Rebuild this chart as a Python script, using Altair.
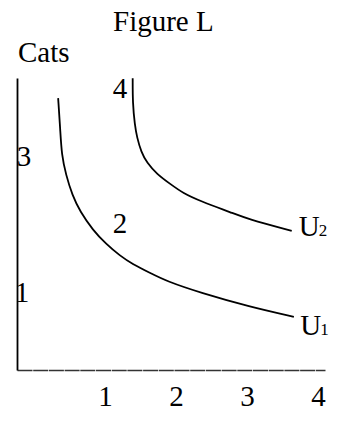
import altair as alt
import pandas as pd

# x-axis tick labels
x_ticks = [1, 2, 3, 4]

# Indifference curve U1 (chart units)
u1_x = [0.34, 0.37, 0.39, 0.45, 0.54, 0.65, 0.83, 1.01, 1.21, 1.39, 1.63, 1.87, 2.34, 3.04, 3.66]
u1_y = [3.83, 3.38, 3.03, 2.75, 2.46, 2.23, 1.97, 1.78, 1.61, 1.49, 1.37, 1.25, 1.09, 0.89, 0.75]

# Indifference curve U2
u2_x = [1.39, 1.39, 1.42, 1.45, 1.51, 1.59, 1.73, 1.92, 2.10, 2.34, 2.80, 3.00, 3.63]
u2_y = [4.11, 3.76, 3.45, 3.28, 3.07, 2.92, 2.76, 2.62, 2.49, 2.38, 2.21, 2.13, 1.96]

# numbered point labels
pt_labels = ["4", "3", "2", "1"]
pt_x = [1.21, -0.14, 1.21, -0.17]
pt_y = [3.96, 3.00, 2.06, 1.08]

# curve name labels
curve_names = ["U", "U"]
curve_subs = ["2", "1"]
name_x = [3.73, 3.75]
name_y = [1.89, 0.49]

FONT = "Liberation Serif"

rows = []
for i, (a, b) in enumerate(zip(u1_x, u1_y)):
    rows.append({"curve": "U1", "x": a, "y": b, "order": i})
for i, (a, b) in enumerate(zip(u2_x, u2_y)):
    rows.append({"curve": "U2", "x": a, "y": b, "order": i})
curves = pd.DataFrame(rows)

pts = pd.DataFrame({"label": pt_labels, "x": pt_x, "y": pt_y})
names = pd.DataFrame({"name": curve_names, "sub": curve_subs, "x": name_x, "y": name_y})

xscale = alt.Scale(domain=[-0.2394, 4.0986], nice=False, zero=False)
yscale = alt.Scale(domain=[0, 4.113], nice=False, zero=False)

xaxis = alt.Axis(values=x_ticks, title=None, ticks=False, grid=False,
                 labelFont=FONT, labelFontSize=29, labelColor="black",
                 labelPadding=12, domainColor="#333333", domainWidth=1.6,
                 domainDash=[15, 0.7], format="d")
yaxis = alt.Axis(title=None, ticks=False, grid=False, labels=False,
                 domainColor="black", domainWidth=1.8)

lines = alt.Chart(curves).mark_line(
    color="black", strokeWidth=1.8, interpolate="basis"
).encode(
    x=alt.X("x:Q", scale=xscale, axis=xaxis),
    y=alt.Y("y:Q", scale=yscale, axis=yaxis),
    detail="curve:N",
    order="order:Q",
)

pt_text = alt.Chart(pts).mark_text(
    font=FONT, fontSize=29, color="black", align="center", baseline="middle"
).encode(x=alt.X("x:Q", scale=xscale), y=alt.Y("y:Q", scale=yscale), text="label:N")

name_text = alt.Chart(names).mark_text(
    font=FONT, fontSize=29, color="black", align="left", baseline="alphabetic"
).encode(x=alt.X("x:Q", scale=xscale), y=alt.Y("y:Q", scale=yscale), text="name:N")

sub_text = alt.Chart(names).mark_text(
    font=FONT, fontSize=17, color="black", align="left", baseline="alphabetic", dx=20
).encode(x=alt.X("x:Q", scale=xscale), y=alt.Y("y:Q", scale=yscale), text="sub:N")

title_df = pd.DataFrame({"t": ["Figure L"]})
title_text = alt.Chart(title_df).mark_text(
    font=FONT, fontSize=29, color="black", align="left", baseline="alphabetic"
).encode(x=alt.value(96), y=alt.value(-47), text="t:N")

cats_df = pd.DataFrame({"t": ["Cats"]})
cats_text = alt.Chart(cats_df).mark_text(
    font=FONT, fontSize=29, color="black", align="left", baseline="alphabetic"
).encode(x=alt.value(1), y=alt.value(-16), text="t:N")

chart = alt.layer(lines, pt_text, name_text, sub_text, title_text, cats_text).properties(
    width=308, height=292,
    autosize=alt.AutoSizeParams(type="none"),
    padding={"left": 9, "top": 70, "right": 4, "bottom": 56},
    background="white",
).configure_view(strokeWidth=0)

chart.save("out.html", embed_options={"renderer": "svg", "actions": False})
